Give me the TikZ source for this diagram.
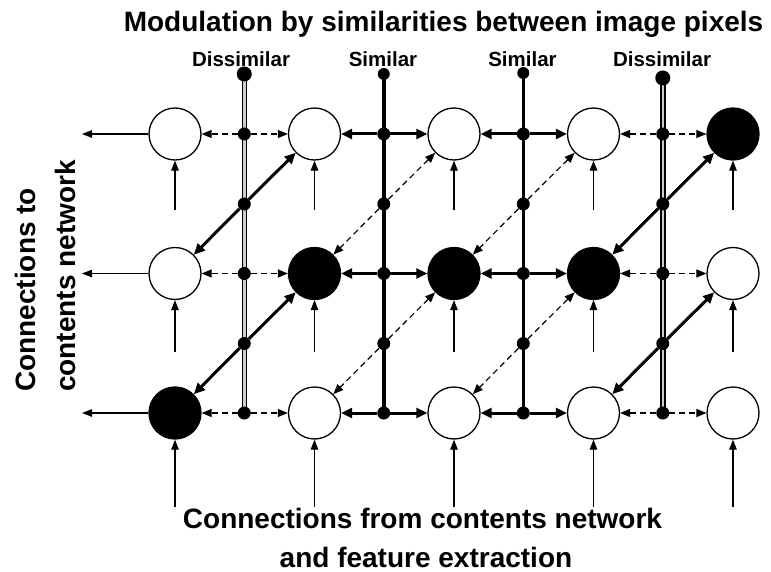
\documentclass[tikz,border=0pt]{standalone}
\usepackage{fontspec}
\setmainfont{Liberation Sans}
\usetikzlibrary{arrows.meta}
\pgfdeclarelayer{background}
\pgfsetlayers{background,main}
\begin{document}
\begin{tikzpicture}[x=1pt,y=-1pt,
  cell/.style={circle,draw=black,line width=1.3pt,minimum size=52pt,inner sep=0pt,fill=white},
  oncell/.style={cell,fill=black},
  dotn/.style={circle,fill=black,inner sep=0pt,minimum size=13pt},
  bigdot/.style={circle,fill=black,inner sep=0pt,minimum size=15pt},
  smalldot/.style={circle,fill=black,inner sep=0pt,minimum size=12pt},
  thickc/.style={line width=3pt,-{Triangle[length=11pt,width=10pt]}},
  dashc/.style={line width=1.2pt,dash pattern=on 6pt off 4pt,-{Triangle[length=10pt,width=8pt]}},
  thinc/.style={line width=1.2pt,-{Triangle[length=10pt,width=7.5pt]}},
  simline/.style={line width=3.5pt},
  disline/.style={draw=black,line width=1.5pt,double=black!20,double distance=2.5pt},
  bigtxt/.style={font=\bfseries\fontsize{28}{34}\selectfont,inner sep=0pt},
  lbltxt/.style={font=\bfseries\fontsize{20.5}{24}\selectfont,inner sep=0pt}
]
\useasboundingbox (0,0) rectangle (771,572);

% texts
\node[bigtxt,anchor=base] (title) at (443.5,32) {Modulation by similarities between image pixels};
\node[lbltxt,anchor=base] (lab1) at (241,67) {Dissimilar};
\node[lbltxt,anchor=base] (lab2) at (383,67) {Similar};
\node[lbltxt,anchor=base] (lab3) at (522.5,67) {Similar};
\node[lbltxt,anchor=base] (lab4) at (662,67) {Dissimilar};
\node[bigtxt,anchor=base] (bot1) at (422.5,528) {Connections from contents network};
\node[bigtxt,anchor=base] (bot2) at (426,567) {and feature extraction};
\node[bigtxt,anchor=base west,rotate=90] (left1) at (35,392) {Connections to};
\node[bigtxt,anchor=base west,rotate=90] (left2) at (75,392) {contents network};

% cells
\foreach \r/\c/\s in {1/1/cell,1/2/cell,1/3/cell,1/4/cell,1/5/oncell,
                      2/1/cell,2/2/oncell,2/3/oncell,2/4/oncell,2/5/cell,
                      3/1/oncell,3/2/cell,3/3/cell,3/4/cell,3/5/cell}
  \node[\s] (c\r\c) at ({175+139.5*(\c-1)},{134+139.5*(\r-1)}) {};

% dots on modulation lines
\foreach \L/\ty/\ts in {1/74/bigdot,2/74/smalldot,3/73/smalldot,4/78/bigdot}{
  \pgfmathsetmacro\xx{244.25+139.5*(\L-1)}
  \node[\ts] (d\L t) at (\xx,\ty) {};
  \foreach \r in {1,2,3}
    \node[dotn] (d\L\r) at (\xx,{134+139.5*(\r-1)}) {};
  \node[dotn] (d\L a) at (\xx,204) {};
  \node[dotn] (d\L b) at (\xx,343.5) {};
}

% vertical modulation lines
\begin{pgfonlayer}{background}
  \draw[disline] (d1t.center) -- (d13.center);
  \draw[simline] (d2t.center) -- (d23.center);
  \draw[simline] (d3t.center) -- (d33.center);
  \draw[disline] (d4t.center) -- (d43.center);
\end{pgfonlayer}

% horizontal and diagonal connections
\foreach \L/\hs/\ds in {1/dashc/thickc,2/thickc/dashc,3/thickc/dashc,4/dashc/thickc}{
  \pgfmathtruncatemacro\N{\L+1}
  \foreach \r in {1,2,3}{
    \draw[\hs] (d\L\r) -- (c\r\L);
    \draw[\hs] (d\L\r) -- (c\r\N);
  }
  \draw[\ds] (d\L a) -- (c2\L);
  \draw[\ds] (d\L a) -- (c1\N);
  \draw[\ds] (d\L b) -- (c3\L);
  \draw[\ds] (d\L b) -- (c2\N);
}

% outputs to the left
\foreach \r in {1,2,3}{
  \coordinate (o\r) at (82,{134+139.5*(\r-1)});
  \draw[thinc] (c\r1) -- (o\r);
}

% inputs from below
\foreach \r/\yy in {1/210,2/352,3/507}
  \foreach \c in {1,...,5}{
    \coordinate (i\r\c) at ({175+139.5*(\c-1)},\yy);
    \draw[thinc] (i\r\c) -- (c\r\c);
  }
\end{tikzpicture}
\end{document}
